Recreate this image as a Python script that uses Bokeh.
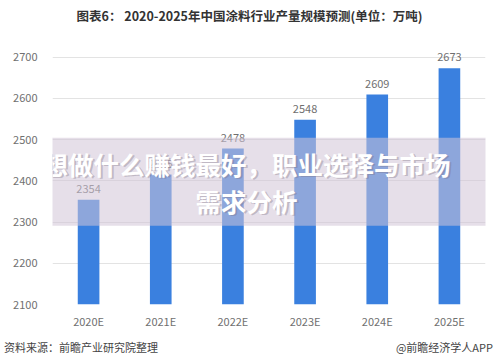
from bokeh.plotting import figure
from bokeh.models import BoxAnnotation, Label, FixedTicker, ColumnDataSource, Div, Node
from bokeh.layouts import column
from bokeh.core.properties import value
from bokeh.embed import file_html
from bokeh.resources import INLINE

categories = ["2020E", "2021E", "2022E", "2023E", "2024E", "2025E"]
production = [2354, 2415, 2478, 2548, 2609, 2673]
y_ticks = [2100, 2200, 2300, 2400, 2500, 2600, 2700]
title_text = "图表6： 2020-2025年中国涂料行业产量规模预测(单位：万吨)"
source_text = "资料来源：前瞻产业研究院整理"
credit_text = "@前瞻经济学人APP"
banner_lines = ["想做什么赚钱最好，职业选择与市场", "需求分析"]

FONT = "Noto Sans CJK SC"
W = 499

src = ColumnDataSource(dict(cat=categories, val=production,
                            lbl=[str(v) for v in production]))

p = figure(width=W, height=300, x_range=categories, y_range=(2100, 2740),
           output_backend="svg", toolbar_location=None,
           min_border_left=52, min_border_right=14, min_border_top=8, min_border_bottom=28)
p.outline_line_color = None
p.background_fill_color = "white"
p.border_fill_color = "white"

p.vbar(x="cat", top="val", bottom=2100, width=0.3, source=src,
       fill_color="#3a80df", line_color=None)
p.text(x="cat", y="val", text="lbl", source=src, y_offset=-7,
       text_align="center", text_baseline="bottom", text_font_size="11px",
       text_color="#6f6f6f", text_font=value(FONT))

p.xgrid.grid_line_color = None
p.ygrid.grid_line_color = "#e3e3e3"
p.ygrid.ticker = FixedTicker(ticks=y_ticks)
p.yaxis.ticker = FixedTicker(ticks=y_ticks)
for ax in (p.xaxis[0], p.yaxis[0]):
    ax.axis_line_color = None
    ax.major_tick_line_color = None
    ax.minor_tick_line_color = None
    ax.major_label_text_color = "#707070"
    ax.major_label_text_font_size = "11px"
    ax.major_label_text_font = FONT
p.yaxis.major_label_standoff = 9
p.xaxis.major_label_standoff = 2

# overlay banner (spanning the whole canvas width)
p.add_layout(BoxAnnotation(left=Node(target="canvas", symbol="left"),
                           right=Node(target="canvas", symbol="right"),
                           bottom=2291, top=2504, fill_color="#d2c4d7", fill_alpha=0.55,
                           line_color=None, level="overlay"))
for yv, t in zip([2441, 2352], banner_lines):
    p.add_layout(Label(x=195, x_units="screen", y=yv, text=t, x_offset=1, y_offset=-1,
                       text_align="center", text_baseline="middle",
                       text_font=FONT, text_font_size="25.5px", text_font_style="bold",
                       text_color="#7a6f80", text_alpha=0.35, level="overlay"))
    p.add_layout(Label(x=194, x_units="screen", y=yv, text=t,
                       text_align="center", text_baseline="middle",
                       text_font=FONT, text_font_size="25.5px", text_font_style="bold",
                       text_color="white", level="overlay"))

title_div = Div(
    text=f'<div style="width:{W}px;text-align:center;font-family:\'{FONT}\';'
         f'font-size:12.5px;font-weight:bold;color:#333;line-height:32px;">{title_text}</div>',
    width=W, height=32, margin=0)
footer_div = Div(
    text=f'<div style="width:{W - 6}px;display:flex;justify-content:space-between;'
         f'font-family:\'{FONT}\';font-size:11px;color:#444;line-height:30px;padding-left:4px;">'
         f'<span>{source_text}</span><span>{credit_text}</span></div>',
    width=W, height=31, margin=0)
p.margin = 0

layout = column(title_div, p, footer_div, spacing=0)
open("out.html", "w").write(file_html(layout, INLINE))
